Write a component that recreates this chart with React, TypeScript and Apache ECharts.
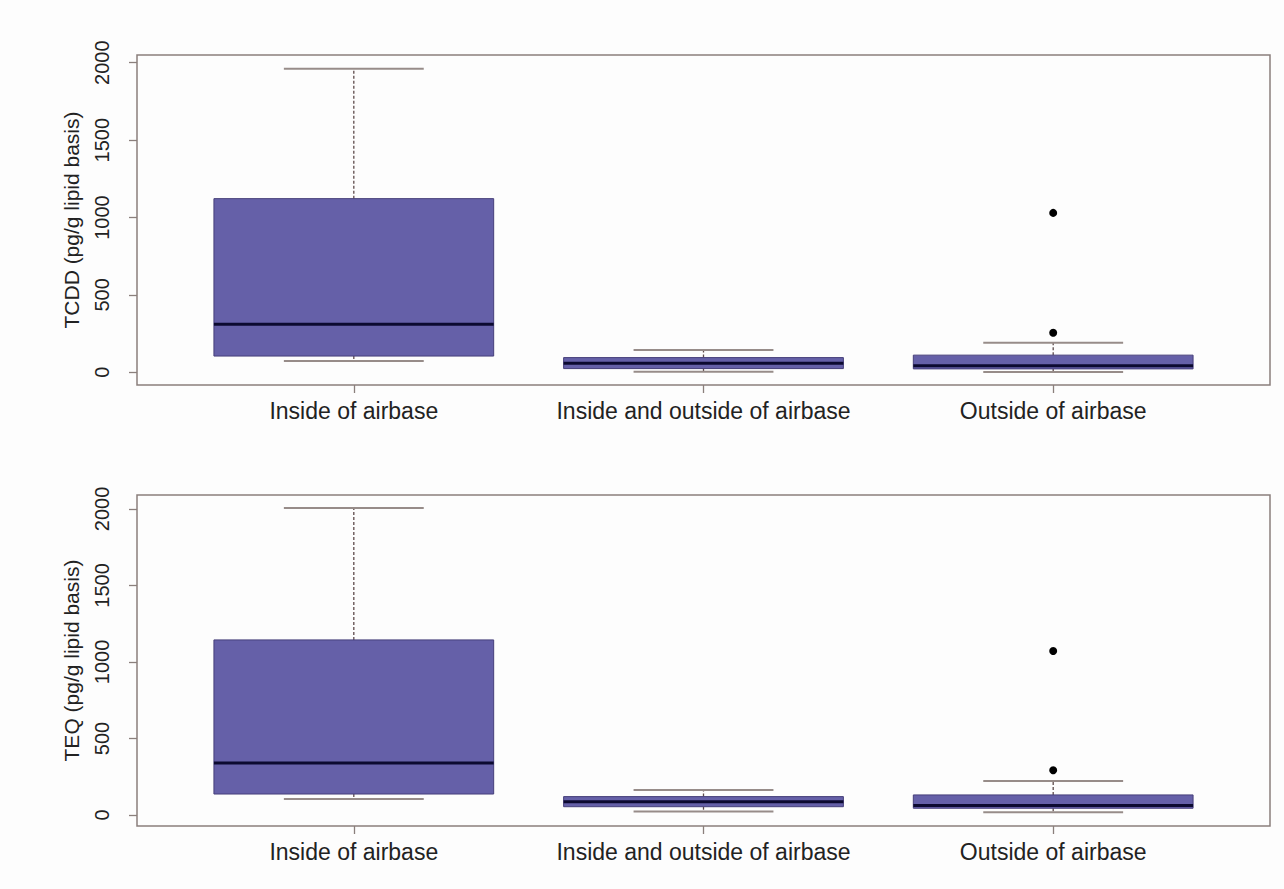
import React, { useEffect, useRef } from "react";
import * as echarts from "echarts";

const categories = ["Inside of airbase", "Inside and outside of airbase", "Outside of airbase"];
const yTickValues = [0, 500, 1000, 1500, 2000];

// TCDD (top panel)
const tcddMin = [73, 4, 2];
const tcddQ1 = [105, 24, 22];
const tcddMedian = [311, 58, 42];
const tcddQ3 = [1122, 95, 111];
const tcddMax = [1961, 144, 191];
const tcddOutliers = [
  [3, 1030],
  [3, 256],
];

// TEQ (bottom panel)
const teqMin = [105, 22, 18];
const teqQ1 = [137, 54, 44];
const teqMedian = [340, 87, 62];
const teqQ3 = [1144, 120, 131];
const teqMax = [2006, 163, 222];
const teqOutliers = [
  [3, 1072],
  [3, 292],
];

const FONT = "'Liberation Sans', Arial, sans-serif";
const FRAME = "#8a7f7c";
const TEXT = "#222222";
const BOX_FILL = "#6560a8";
const BOX_STROKE = "#463f7a";
const MEDIAN = "#0c0a30";
const WHISKER = "#5e4b4b";
const CAP = "#978c89";

function boxData(mn: number[], q1: number[], med: number[], q3: number[], mx: number[]) {
  return categories.map((_, i) => [i + 1, mn[i], q1[i], med[i], q3[i], mx[i]]);
}

function renderBox(params: any, api: any) {
  const x = api.value(0);
  const mn = api.value(1);
  const q1 = api.value(2);
  const med = api.value(3);
  const q3 = api.value(4);
  const mx = api.value(5);
  const half = 0.4;
  const capHalf = 0.2;
  const pMin = api.coord([x, mn]);
  const pQ1 = api.coord([x, q1]);
  const pMed = api.coord([x, med]);
  const pQ3 = api.coord([x, q3]);
  const pMax = api.coord([x, mx]);
  const left = api.coord([x - half, q1])[0];
  const right = api.coord([x + half, q1])[0];
  const capL = api.coord([x - capHalf, q1])[0];
  const capR = api.coord([x + capHalf, q1])[0];
  const cx = pMed[0];
  return {
    type: "group",
    children: [
      {
        type: "line",
        shape: { x1: cx, y1: pQ3[1], x2: cx, y2: pMax[1] },
        style: { stroke: WHISKER, lineWidth: 1.3, lineDash: [3, 2] },
      },
      {
        type: "line",
        shape: { x1: cx, y1: pQ1[1], x2: cx, y2: pMin[1] },
        style: { stroke: WHISKER, lineWidth: 1.3, lineDash: [3, 2] },
      },
      {
        type: "line",
        shape: { x1: capL, y1: pMax[1], x2: capR, y2: pMax[1] },
        style: { stroke: CAP, lineWidth: 2 },
      },
      {
        type: "line",
        shape: { x1: capL, y1: pMin[1], x2: capR, y2: pMin[1] },
        style: { stroke: CAP, lineWidth: 2 },
      },
      {
        type: "rect",
        shape: { x: left, y: pQ3[1], width: right - left, height: pQ1[1] - pQ3[1] },
        style: { fill: BOX_FILL, stroke: BOX_STROKE, lineWidth: 1 },
      },
      {
        type: "line",
        shape: { x1: left, y1: pMed[1], x2: right, y2: pMed[1] },
        style: { stroke: MEDIAN, lineWidth: 3 },
      },
    ],
  };
}

function xAxisFor(gridIndex: number) {
  return {
    type: "value",
    gridIndex,
    min: 0.38,
    max: 3.62,
    splitLine: { show: false },
    axisLine: { show: false, onZero: false },
    axisTick: {
      show: true,
      customValues: [1, 2, 3],
      length: 8,
      lineStyle: { color: FRAME, width: 1.3 },
    },
    axisLabel: {
      customValues: [1, 2, 3],
      formatter: (v: number) => categories[Math.round(v) - 1] || "",
      color: TEXT,
      fontSize: 23,
      fontFamily: FONT,
      margin: 14,
    },
  };
}

function yAxisFor(gridIndex: number, min: number, max: number, name: string) {
  return {
    type: "value",
    gridIndex,
    min,
    max,
    name,
    nameLocation: "middle",
    nameGap: 55,
    nameTextStyle: { color: TEXT, fontSize: 21, fontFamily: FONT, verticalAlign: "bottom" },
    splitLine: { show: false },
    axisLine: { show: false, onZero: false },
    axisTick: {
      show: true,
      customValues: yTickValues,
      length: 8,
      lineStyle: { color: FRAME, width: 1.3 },
    },
    axisLabel: {
      customValues: yTickValues,
      formatter: (v: number) => String(v),
      rotate: 90,
      color: TEXT,
      fontSize: 20,
      fontFamily: FONT,
      margin: 25,
    },
  };
}

export default function App() {
  const ref = useRef<HTMLDivElement>(null);
  useEffect(() => {
    document.body.style.margin = "0";
    if (!ref.current) return;
    const chart = echarts.init(ref.current, undefined, { renderer: "svg" });
    chart.setOption({
      animation: false,
      backgroundColor: "#fdfdfd",
      grid: [
        { left: 137, right: 14, top: 55, bottom: 504, show: true, borderColor: FRAME, borderWidth: 1.5, backgroundColor: "transparent" },
        { left: 137, right: 14, top: 495, bottom: 63, show: true, borderColor: FRAME, borderWidth: 1.5, backgroundColor: "transparent" },
      ],
      xAxis: [xAxisFor(0), xAxisFor(1)],
      yAxis: [
        yAxisFor(0, -82, 2050, "TCDD (pg/g lipid basis)"),
        yAxisFor(1, -72, 2091, "TEQ (pg/g lipid basis)"),
      ],
      series: [
        {
          type: "custom",
          xAxisIndex: 0,
          yAxisIndex: 0,
          renderItem: renderBox,
          encode: { x: 0, y: [1, 2, 3, 4, 5] },
          data: boxData(tcddMin, tcddQ1, tcddMedian, tcddQ3, tcddMax),
          silent: true,
        },
        {
          type: "scatter",
          xAxisIndex: 0,
          yAxisIndex: 0,
          symbol: "circle",
          symbolSize: 8,
          itemStyle: { color: "#000000", opacity: 1 },
          data: tcddOutliers,
          silent: true,
        },
        {
          type: "custom",
          xAxisIndex: 1,
          yAxisIndex: 1,
          renderItem: renderBox,
          encode: { x: 0, y: [1, 2, 3, 4, 5] },
          data: boxData(teqMin, teqQ1, teqMedian, teqQ3, teqMax),
          silent: true,
        },
        {
          type: "scatter",
          xAxisIndex: 1,
          yAxisIndex: 1,
          symbol: "circle",
          symbolSize: 8,
          itemStyle: { color: "#000000", opacity: 1 },
          data: teqOutliers,
          silent: true,
        },
      ],
    });
    return () => chart.dispose();
  }, []);
  return <div ref={ref} style={{ width: 1284, height: 889 }} />;
}
